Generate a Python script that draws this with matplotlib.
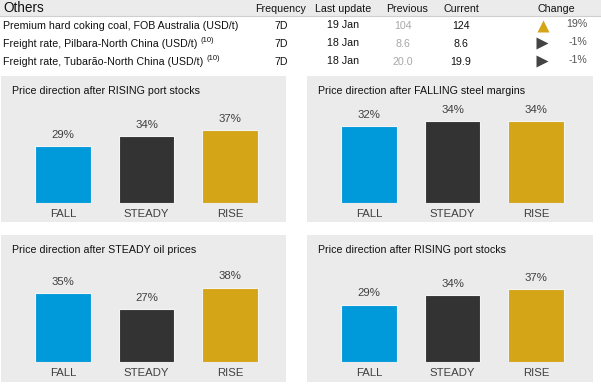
import matplotlib
matplotlib.use("Agg")
import matplotlib.pyplot as plt
from matplotlib.patches import Rectangle

plt.rcParams['font.family'] = ['Liberation Sans', 'DejaVu Sans']

# header table
columns = ["Frequency", "Last update", "Previous", "Current", "Change"]
names = ["Premium hard coking coal, FOB Australia (USD/t)",
         "Freight rate, Pilbara-North China (USD/t)",
         "Freight rate, Tubarão-North China (USD/t)"]
notes = ["", "(10)", "(10)"]
frequency = ["7D", "7D", "7D"]
last_update = ["19 Jan", "18 Jan", "18 Jan"]
previous = ["104", "8.6", "20.0"]
current = ["124", "8.6", "19.9"]
change = [19, -1, -1]
direction = ["up", "flat", "flat"]

# panels
titles = ["Price direction after RISING port stocks",
          "Price direction after FALLING steel margins",
          "Price direction after STEADY oil prices",
          "Price direction after RISING port stocks"]
categories = ["FALL", "STEADY", "RISE"]
shares = [[29, 34, 37],
          [32, 34, 34],
          [35, 27, 38],
          [29, 34, 37]]

colors = ["#009ADA", "#333333", "#D4A517"]
W, H = 601, 390
fig = plt.figure(figsize=(W / 100, H / 100), dpi=100)
fig.patch.set_facecolor("white")
renderer = fig.canvas.get_renderer()

# pixel coordinate overlay for the table and panel backgrounds
bg = fig.add_axes([0, 0, 1, 1], zorder=0)
bg.set_xlim(0, W)
bg.set_ylim(H, 0)
bg.axis("off")

bg.add_patch(Rectangle((0, 0), W, 16, facecolor="#EBEBEB", edgecolor="none"))
bg.plot([0, W], [16, 16], color="#CFCFCF", lw=0.8)
bg.text(3, 8.5, "Others", fontsize=9.8, va="center", ha="left", color="#111111")
col_x = [281, 343, 407, 461, 556]
for x, c in zip(col_x, columns):
    bg.text(x, 9, c, fontsize=7.7, ha="center", va="center", color="#111111")

row_y = [26, 44, 62]
for i, y in enumerate(row_y):
    t = bg.text(3, y, names[i], fontsize=7.7, ha="left", va="center", color="#111111")
    if notes[i]:
        bb = t.get_window_extent(renderer)
        x_end = bg.transData.inverted().transform((bb.x1, 0))[0]
        bg.text(x_end + 3, y - 3.5, notes[i], fontsize=5.5, ha="left", va="center", color="#111111")
    bg.text(col_x[0], y, frequency[i], fontsize=7.7, ha="center", va="center", color="#111111")
    bg.text(col_x[1], y - 1, last_update[i], fontsize=7.7, ha="center", va="center", color="#111111")
    bg.text(col_x[2] - 4, y, previous[i], fontsize=7.7, ha="center", va="center", color="#A8A8A8")
    bg.text(col_x[3], y, current[i], fontsize=7.7, ha="center", va="center", color="#111111")
    if direction[i] == "up":
        bg.plot(543, y, marker="^", ms=8.5, color="#D4A517", mec="none")
    else:
        bg.plot(542, y - 1, marker=">", ms=8.5, color="#444444", mec="none")
    bg.text(587, y - 2, f"{change[i]}%", fontsize=7.7, ha="right", va="center", color="#555555")

# panel layout in pixels: (left, top, right, bottom, bar base, px per %)
panels = [(1, 76, 286, 222, 203, 1.96),
          (307, 76, 593, 222, 203, 2.41),
          (1, 235, 286, 382, 362, 1.96),
          (307, 235, 593, 382, 362, 1.98)]

for k, (l, t, r, b, base, scale) in enumerate(panels):
    bg.add_patch(Rectangle((l, t), r - l, b - t, facecolor="#EBEBEB", edgecolor="none"))
    bg.text(l + 11, t + 15, titles[k], fontsize=7.7, ha="left", va="center", color="#111111")

    ax_h = 103
    ax_l = l + 20.25
    ax_w = 250.5
    ax = fig.add_axes([ax_l / W, (H - base) / H, ax_w / W, ax_h / H], zorder=1)
    ax.patch.set_alpha(0)
    xs = range(len(categories))
    ax.bar(xs, shares[k], width=0.67, color=colors, edgecolor="#F4F4F4", linewidth=0.8)
    for x, v in zip(xs, shares[k]):
        ax.annotate(f"{v}%", (x, v), xytext=(0, 8), textcoords="offset points",
                    ha="center", va="center", fontsize=8.2, color="#404040")
    ax.set_xlim(-0.5, 2.5)
    ax.set_ylim(0, ax_h / scale)
    ax.set_xticks(list(xs))
    ax.set_xticklabels(categories, fontsize=8.2, color="#404040")
    ax.tick_params(axis="x", length=0, pad=4.5)
    ax.set_yticks([])
    for s in ax.spines.values():
        s.set_visible(False)

fig.savefig("out.png", dpi=100)
